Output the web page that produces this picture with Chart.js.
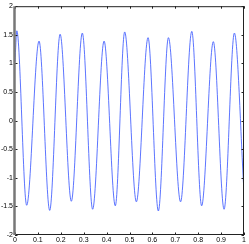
<!DOCTYPE html>
<html><head><meta charset="utf-8">
<script src="https://cdn.jsdelivr.net/npm/chart.js@4/dist/chart.umd.min.js"></script>
<style>html,body{margin:0;padding:0;background:#fff}#c{display:block}</style>
</head><body>
<canvas id="c" width="249" height="244"></canvas>
<script>
// values (time, amplitude) at start, peaks, troughs, end
const times  = [0, 0.008, 0.051, 0.105, 0.1515, 0.197, 0.246, 0.294, 0.339, 0.389, 0.438, 0.479, 0.530, 0.581, 0.626, 0.670, 0.723, 0.772, 0.815, 0.866, 0.913, 0.958, 1.0];
const values = [1.03, 1.57, -1.48, 1.39, -1.57, 1.51, -1.41, 1.53, -1.55, 1.39, -1.49, 1.55, -1.42, 1.45, -1.58, 1.45, -1.42, 1.56, -1.49, 1.38, -1.55, 1.53, -1.25];
const xTicks = [0, 0.1, 0.2, 0.3, 0.4, 0.5, 0.6, 0.7, 0.8, 0.9, 1];
const yTicks = [-2, -1.5, -1, -0.5, 0, 0.5, 1, 1.5, 2];

const pts = times.map((t, i) => ({x: t, y: values[i]}));

const boxPlugin = {
  id: 'box',
  afterDraw(chart) {
    const {ctx, chartArea: a, scales: {x, y}} = chart;
    ctx.save();
    ctx.strokeStyle = '#222';
    ctx.lineWidth = 1;
    ctx.beginPath();
    ctx.moveTo(a.left, a.top + 0.5); ctx.lineTo(a.right, a.top + 0.5);
    ctx.moveTo(a.right - 0.5, a.top); ctx.lineTo(a.right - 0.5, a.bottom);
    ctx.moveTo(a.left, a.bottom - 0.5); ctx.lineTo(a.right, a.bottom - 0.5);
    // inward ticks
    xTicks.forEach(v => {
      const px = Math.round(x.getPixelForValue(v)) + 0.5;
      ctx.moveTo(px, a.bottom); ctx.lineTo(px, a.bottom - 2.5);
      ctx.moveTo(px, a.top); ctx.lineTo(px, a.top + 2.5);
    });
    yTicks.forEach(v => {
      const py = Math.round(y.getPixelForValue(v)) + 0.5;
      ctx.moveTo(a.right, py); ctx.lineTo(a.right - 2.5, py);
      ctx.moveTo(a.left, py); ctx.lineTo(a.left + 2.5, py);
    });
    ctx.stroke();
    ctx.strokeStyle = '#777';
    ctx.lineWidth = 2.5;
    ctx.beginPath();
    ctx.moveTo(a.left - 0.5, a.top); ctx.lineTo(a.left - 0.5, a.bottom);
    ctx.stroke();
    ctx.restore();
  }
};

new Chart(document.getElementById('c'), {
  type: 'line',
  data: {datasets: [{
    data: pts,
    borderColor: 'rgb(50,80,255)',
    borderWidth: 0.8,
    pointRadius: 0,
    cubicInterpolationMode: 'monotone',
    fill: false
  }]},
  options: {
    responsive: false,
    animation: false,
    events: [],
    layout: {padding: {top: 6, right: 5, left: 0, bottom: 0}},
    plugins: {legend: {display: false}, tooltip: {enabled: false}},
    scales: {
      x: {
        type: 'linear', min: 0, max: 1,
        afterBuildTicks: s => { s.ticks = xTicks.map(v => ({value: v})); },
        afterFit: s => { s.height = 9; },
        grid: {display: false, drawTicks: false},
        border: {display: false},
        ticks: {padding: 1, maxRotation: 0, autoSkip: false, color: '#000', font: {family: 'Liberation Sans, Arial', size: 7},
          callback: v => String(v)}
      },
      y: {
        type: 'linear', min: -2, max: 2,
        afterBuildTicks: s => { s.ticks = yTicks.map(v => ({value: v})); },
        afterFit: s => { s.width = 15; },
        grid: {display: false, drawTicks: false},
        border: {display: false},
        ticks: {padding: 2, autoSkip: false, color: '#000', font: {family: 'Liberation Sans, Arial', size: 7},
          callback: v => String(v)}
      }
    }
  },
  plugins: [boxPlugin]
});
</script>
</body></html>
